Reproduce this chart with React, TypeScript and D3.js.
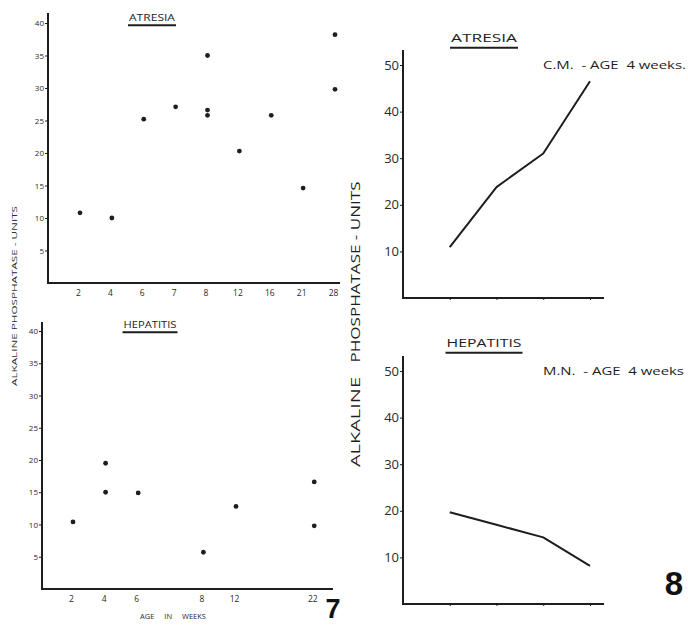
import { useRef, useEffect } from "react";
import * as d3 from "d3";

// Fig 7 - atresia scatter (age in weeks vs units)
const atresiaWeeks = ["2", "4", "6", "7", "8", "12", "16", "21", "28"];
const atresiaAge = ["2", "4", "6", "7", "8", "8", "8", "12", "16", "21", "28", "28"];
const atresiaUnits = [10.8, 10, 25.2, 27.1, 35, 26.6, 25.8, 20.3, 25.8, 14.6, 38.2, 29.8];

// Fig 7 - hepatitis scatter
const hepatitisWeeks = [2, 4, 6, 8, 12, 22];
const hepatitisAge = [2, 4, 4, 6, 8, 12, 22, 22];
const hepatitisUnits = [10.4, 19.5, 15, 14.9, 5.7, 12.8, 16.6, 9.8];

// Fig 8 - single patients, successive samples
const sampleNo = [1, 2, 3, 4];
const cmUnits = [10.9, 23.8, 31.0, 46.5];
const mnUnits = [19.7, 17.0, 14.3, 8.2];

const smallTicks = [5, 10, 15, 20, 25, 30, 35, 40];
const bigTicks = [10, 20, 30, 40, 50];

const INK = "#1e1e1e";
const FONT = "'Open Sans', 'DejaVu Sans', sans-serif";

export default function App() {
  const svgRef = useRef<SVGSVGElement>(null);

  useEffect(() => {
    const svg = d3.select(svgRef.current);
    svg.selectAll("*").remove();

    const underlineTitle = (text: string, cx: number, y: number, size: number, w: number) => {
      svg
        .append("text")
        .attr("x", cx)
        .attr("y", y)
        .attr("text-anchor", "middle")
        .attr("font-size", size)
        .attr("font-family", FONT)
        .attr("fill", INK)
        .attr("textLength", w - 2)
        .attr("lengthAdjust", "spacingAndGlyphs")
        .text(text);
      svg
        .append("line")
        .attr("x1", cx - w / 2)
        .attr("x2", cx + w / 2)
        .attr("y1", y + size * 0.5)
        .attr("y2", y + size * 0.5)
        .attr("stroke", INK)
        .attr("stroke-width", 2);
    };

    const styleAxis = (g: any, size: number) => {
      g.select(".domain").remove();
      g.selectAll("line").attr("stroke", INK).attr("stroke-width", 1);
      g.selectAll("text").attr("font-size", size).attr("font-family", FONT).attr("fill", "#2a2a2a");
    };

    // ---------- Fig 7 top: ATRESIA ----------
    {
      const x0 = 48, yBase = 283, top = 13, right = 340;
      const x = d3.scalePoint<string>().domain(atresiaWeeks).range([x0 + 30, x0 + 285]);
      const y = d3.scaleLinear().domain([0, 40]).range([yBase, yBase - 260]);

      svg.append("path")
        .attr("d", `M${x0},${top}V${yBase}H${right}`)
        .attr("fill", "none").attr("stroke", INK).attr("stroke-width", 2);

      svg.append("g").attr("transform", `translate(${x0},0)`)
        .call(d3.axisLeft(y).tickValues(smallTicks).tickSize(3).tickPadding(1))
        .call((g: any) => styleAxis(g, 8));
      svg.append("g").attr("transform", `translate(0,${yBase})`)
        .call(d3.axisBottom(x).tickSize(0).tickPadding(7))
        .call((g: any) => styleAxis(g, 8.5));

      svg.append("g").selectAll("circle")
        .data(atresiaUnits)
        .join("circle")
        .attr("cx", (_, i) => x(atresiaAge[i])! + 2)
        .attr("cy", (d) => y(d))
        .attr("r", 2.4)
        .attr("fill", INK);

      underlineTitle("ATRESIA", 152, 21, 8.5, 48);
    }

    // ---------- Fig 7 bottom: HEPATITIS ----------
    {
      const x0 = 42, yBase = 589, top = 322, right = 333;
      // hand-spaced week axis: gaps where weeks are missing
      const x = d3.scaleLinear()
        .domain(hepatitisWeeks)
        .range([0, 1, 2, 4, 5, 7.4].map((s) => x0 + 29 + s * 32.6));
      const y = d3.scaleLinear().domain([0, 40]).range([yBase, yBase - 258]);

      svg.append("path")
        .attr("d", `M${x0},${top}V${yBase}H${right}`)
        .attr("fill", "none").attr("stroke", INK).attr("stroke-width", 2);

      svg.append("g").attr("transform", `translate(${x0},0)`)
        .call(d3.axisLeft(y).tickValues(smallTicks).tickSize(3).tickPadding(1))
        .call((g: any) => styleAxis(g, 8));
      svg.append("g").attr("transform", `translate(0,${yBase})`)
        .call(d3.axisBottom(x).tickValues(hepatitisWeeks).tickFormat(d3.format("d")).tickSize(0).tickPadding(7))
        .call((g: any) => styleAxis(g, 8.5));

      svg.append("g").selectAll("circle")
        .data(hepatitisUnits)
        .join("circle")
        .attr("cx", (_, i) => x(hepatitisAge[i]) + 2)
        .attr("cy", (d) => y(d))
        .attr("r", 2.4)
        .attr("fill", INK);

      underlineTitle("HEPATITIS", 150, 328, 8.5, 55);

      svg.append("text")
        .attr("x", 173).attr("y", 619)
        .attr("text-anchor", "middle")
        .attr("font-size", 7.5).attr("font-family", FONT).attr("fill", "#2a2a2a")
        .attr("word-spacing", 8)
        .text("AGE IN WEEKS");
    }

    // left shared y label
    svg.append("text")
      .attr("transform", "translate(17,296) rotate(-90)")
      .attr("text-anchor", "middle")
      .attr("font-size", 7.5).attr("font-family", FONT).attr("fill", "#2a2a2a")
      .attr("textLength", 180).attr("lengthAdjust", "spacingAndGlyphs")
      .text("ALKALINE  PHOSPHATASE - UNITS");

    // ---------- Fig 8: two line panels ----------
    const linePanel = (yBase: number, values: number[], title: string, titleY: number, note: string, noteW: number) => {
      const x0 = 403, right = 604;
      const x = d3.scaleLinear().domain([0, 4.3]).range([x0, right]);
      const y = d3.scaleLinear().domain([0, 50]).range([yBase, yBase - 233]);

      svg.append("path")
        .attr("d", `M${x0},${yBase - 248}V${yBase}H${right}`)
        .attr("fill", "none").attr("stroke", INK).attr("stroke-width", 2);

      svg.append("g").attr("transform", `translate(${x0},0)`)
        .call(d3.axisLeft(y).tickValues(bigTicks).tickSize(3).tickPadding(1))
        .call((g: any) => styleAxis(g, 13));
      svg.append("g").attr("transform", `translate(0,${yBase})`)
        .call(d3.axisBottom(x).tickValues(sampleNo).tickSize(2).tickFormat(() => ""))
        .call((g: any) => styleAxis(g, 8));

      const line = d3.line<number>()
        .x((_, i) => x(sampleNo[i]))
        .y((d) => y(d));
      svg.append("path")
        .datum(values)
        .attr("d", line)
        .attr("fill", "none")
        .attr("stroke", INK)
        .attr("stroke-width", 2)
        .attr("stroke-linejoin", "round");

      underlineTitle(title, 484, titleY, 11.5, title === "ATRESIA" ? 68 : 77);

      svg.append("text")
        .attr("x", 543).attr("y", yBase - 229)
        .attr("font-size", 11).attr("font-family", FONT).attr("fill", INK)
        .attr("xml:space", "preserve")
        .attr("textLength", noteW).attr("lengthAdjust", "spacingAndGlyphs")
        .text(note);
    };

    linePanel(298, cmUnits, "ATRESIA", 42, "C.M.  - AGE  4 weeks.", 143);
    linePanel(604, mnUnits, "HEPATITIS", 347, "M.N.  - AGE  4 weeks", 141);

    // right shared y label, two words set apart as in the lettering
    const rightLabel = (text: string, cy: number, len: number) =>
      svg.append("text")
        .attr("transform", `translate(360,${cy}) rotate(-90)`)
        .attr("text-anchor", "middle")
        .attr("font-size", 12.5).attr("font-family", FONT).attr("fill", INK)
        .attr("textLength", len).attr("lengthAdjust", "spacingAndGlyphs")
        .text(text);
    rightLabel("ALKALINE", 422, 90);
    rightLabel("PHOSPHATASE - UNITS", 272, 181);

    // figure numbers
    svg.append("text")
      .attr("x", 333).attr("y", 618)
      .attr("text-anchor", "middle")
      .attr("font-size", 27).attr("font-weight", "bold")
      .attr("font-family", "'Liberation Sans', sans-serif").attr("fill", "#111")
      .text("7");
    svg.append("text")
      .attr("x", 674).attr("y", 595)
      .attr("text-anchor", "middle")
      .attr("font-size", 33).attr("font-weight", "bold")
      .attr("font-family", "'Liberation Sans', sans-serif").attr("fill", "#111")
      .text("8");
  }, []);

  return (
    <svg
      ref={svgRef}
      width={688}
      height={625}
      style={{ position: "absolute", left: 0, top: 0, background: "#fff" }}
    />
  );
}
